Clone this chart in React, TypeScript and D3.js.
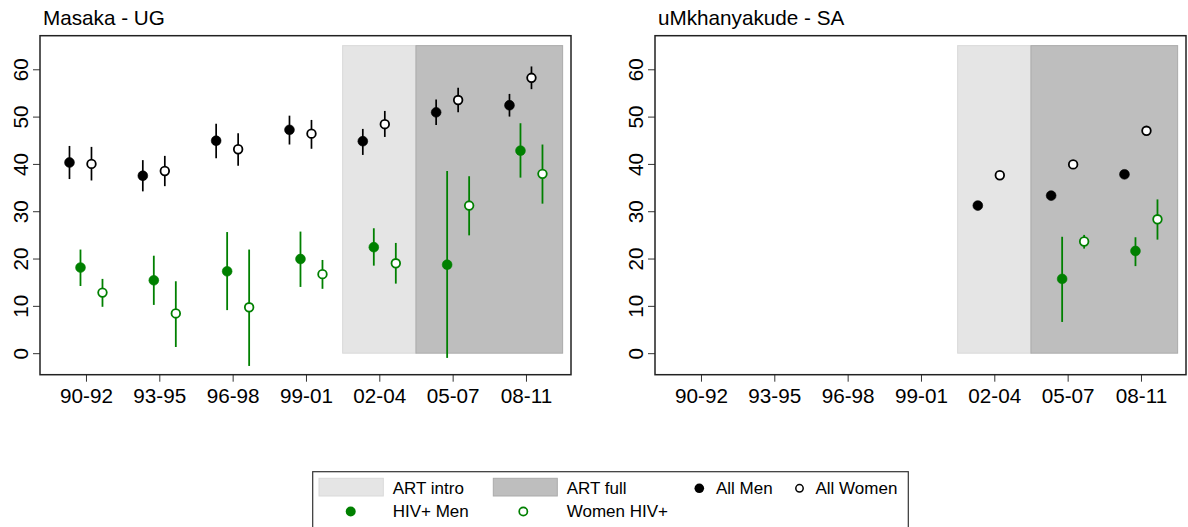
import * as d3 from "d3";
import React, { useEffect, useRef } from "react";

type Est = [number, number, number] | null; // [estimate, lower, upper]

const periods = ["90-92", "93-95", "96-98", "99-01", "02-04", "05-07", "08-11"];
const yTicks = [0, 10, 20, 30, 40, 50, 60];

// ART periods (in period index units) and the height of the shaded band
const artIntro = [4.5, 5.5];
const artFull = [5.5, 7.5];
const shadeTop = 65;

const masakaAllMen: Est[] = [[40.3, 36.8, 43.8], [37.5, 34.2, 40.8], [44.9, 41.2, 48.5], [47.2, 44.1, 50.2], [44.8, 41.9, 47.4], [50.9, 48.2, 53.6], [52.4, 50.0, 54.8]];
const masakaAllWomen: Est[] = [[40.0, 36.5, 43.6], [38.5, 35.3, 41.7], [43.1, 39.6, 46.5], [46.4, 43.2, 49.3], [48.4, 45.7, 51.2], [53.5, 50.9, 56.1], [58.2, 55.8, 60.6]];
const masakaHivMen: Est[] = [[18.1, 14.2, 21.9], [15.4, 10.2, 20.6], [17.3, 9.1, 25.6], [19.9, 14.0, 25.7], [22.4, 18.5, 26.4], [18.7, -1.0, 38.5], [42.8, 37.1, 48.6]];
const masakaHivWomen: Est[] = [[12.8, 9.8, 15.7], [8.4, 1.3, 15.2], [9.7, -2.7, 21.9], [16.7, 13.6, 19.7], [19.0, 14.7, 23.3], [31.2, 24.9, 37.4], [37.9, 31.6, 44.1]];

const umkhAllMen: Est[] = [null, null, null, null, [31.2, 30.8, 31.7], [33.3, 32.7, 33.9], [37.8, 37.3, 38.3]];
const umkhAllWomen: Est[] = [null, null, null, null, [37.6, 36.9, 38.3], [39.9, 39.1, 40.8], [47.0, 46.4, 47.6]];
const umkhHivMen: Est[] = [null, null, null, null, null, [15.7, 6.6, 24.6], [21.6, 18.4, 24.5]];
const umkhHivWomen: Est[] = [null, null, null, null, null, [23.6, 22.1, 25.0], [28.3, 24.0, 32.5]];

const FONT = "'Liberation Sans', Arial, Helvetica, sans-serif";
const GREEN = "#008000";

const panels = [
  { title: "Masaka - UG", left: 40, series: [masakaAllMen, masakaHivMen, masakaAllWomen, masakaHivWomen] },
  { title: "uMkhanyakude - SA", left: 655, series: [umkhAllMen, umkhHivMen, umkhAllWomen, umkhHivWomen] },
];

// order matches panel.series
const styles = [
  { offset: -0.225, color: "#000", filled: true },
  { offset: -0.075, color: GREEN, filled: true },
  { offset: 0.075, color: "#000", filled: false },
  { offset: 0.225, color: GREEN, filled: false },
];

export default function App() {
  const svgRef = useRef<SVGSVGElement>(null);

  useEffect(() => {
    const svg = d3.select(svgRef.current);
    svg.selectAll("*").remove();

    const top = 35.7, bottom = 374.7, pw = 531;
    const y = d3.scaleLinear().domain([-4.55, 67.1]).range([bottom, top]);

    panels.forEach((p) => {
      const x = d3.scaleLinear().domain([0.373, 7.614]).range([p.left, p.left + pw]);
      const g = svg.append("g");

      // ART shading
      g.append("rect")
        .attr("x", x(artIntro[0])).attr("y", y(shadeTop))
        .attr("width", x(artIntro[1]) - x(artIntro[0])).attr("height", y(0) - y(shadeTop))
        .attr("fill", "#e5e5e5").attr("stroke", "#d9d9d9");
      g.append("rect")
        .attr("x", x(artFull[0])).attr("y", y(shadeTop))
        .attr("width", x(artFull[1]) - x(artFull[0])).attr("height", y(0) - y(shadeTop))
        .attr("fill", "#bebebe").attr("stroke", "#ababab");

      // error bars then points
      p.series.forEach((s, si) => {
        const st = styles[si];
        const pts = s.map((d, i) => ({ d, i })).filter((o) => o.d !== null) as { d: [number, number, number]; i: number }[];
        g.append("g").selectAll("line").data(pts).enter().append("line")
          .attr("x1", (o) => x(o.i + 1 + st.offset)).attr("x2", (o) => x(o.i + 1 + st.offset))
          .attr("y1", (o) => y(o.d[1])).attr("y2", (o) => y(o.d[2]))
          .attr("stroke", st.color).attr("stroke-width", st.color === GREEN ? 1.8 : 1.7);
        g.append("g").selectAll("circle").data(pts).enter().append("circle")
          .attr("cx", (o) => x(o.i + 1 + st.offset)).attr("cy", (o) => y(o.d[0]))
          .attr("r", st.filled ? 4.9 : 4.3)
          .attr("fill", st.filled ? st.color : "#fff")
          .attr("stroke", st.color).attr("stroke-width", st.filled ? 0.6 : 1.8);
      });

      // axes
      const yAxis = d3.axisLeft(y).tickValues(yTicks).tickSize(7).tickSizeOuter(0);
      const ya = g.append("g").attr("transform", `translate(${p.left},0)`).call(yAxis);
      ya.select(".domain").remove();
      ya.selectAll(".tick line").attr("stroke", "#333");
      ya.selectAll(".tick text")
        .attr("transform", "rotate(-90)")
        .attr("text-anchor", "middle").attr("x", 0).attr("y", -12).attr("dy", 0)
        .attr("fill", "#000").style("font", `20.7px ${FONT}`);

      const xAxis = d3.axisBottom(x).tickValues(d3.range(1, periods.length + 1))
        .tickFormat((d) => periods[(d as number) - 1]).tickSize(7).tickSizeOuter(0);
      const xa = g.append("g").attr("transform", `translate(0,${bottom})`).call(xAxis);
      xa.select(".domain").remove();
      xa.selectAll(".tick line").attr("stroke", "#333");
      xa.selectAll(".tick text").attr("y", 13.6).attr("fill", "#000").style("font", `20.7px ${FONT}`);

      // frame
      g.append("rect").attr("x", p.left).attr("y", top).attr("width", pw).attr("height", bottom - top)
        .attr("fill", "none").attr("stroke", "#222").attr("stroke-width", 1.5);

      g.append("text").attr("x", p.left + 3).attr("y", 25).attr("fill", "#000")
        .style("font", `20.7px ${FONT}`).text(p.title);
    });

    // legend
    const lg = svg.append("g").style("font", `17px ${FONT}`).attr("fill", "#000");
    lg.append("rect").attr("x", 312.7).attr("y", 471.7).attr("width", 595.6).attr("height", 80)
      .attr("fill", "#fff").attr("stroke", "#333").attr("stroke-width", 1.2);
    lg.append("rect").attr("x", 319).attr("y", 478.3).attr("width", 64.3).attr("height", 17.7)
      .attr("fill", "#e5e5e5").attr("stroke", "#d9d9d9");
    lg.append("text").attr("x", 392.7).attr("y", 494.3).text("ART intro");
    lg.append("rect").attr("x", 493.3).attr("y", 478.3).attr("width", 64).attr("height", 17.7)
      .attr("fill", "#bebebe").attr("stroke", "#ababab");
    lg.append("text").attr("x", 566.7).attr("y", 494.3).text("ART full");
    lg.append("circle").attr("cx", 699.3).attr("cy", 488.3).attr("r", 4.8).attr("fill", "#000");
    lg.append("text").attr("x", 716).attr("y", 494.3).text("All Men");
    lg.append("circle").attr("cx", 799.5).attr("cy", 488.3).attr("r", 3.7)
      .attr("fill", "#fff").attr("stroke", "#000").attr("stroke-width", 1.5);
    lg.append("text").attr("x", 815.5).attr("y", 494.3).text("All Women");
    lg.append("circle").attr("cx", 350.7).attr("cy", 511.5).attr("r", 5).attr("fill", GREEN);
    lg.append("text").attr("x", 392.7).attr("y", 517).text("HIV+ Men");
    lg.append("circle").attr("cx", 523.3).attr("cy", 511.5).attr("r", 4.1)
      .attr("fill", "#fff").attr("stroke", GREEN).attr("stroke-width", 1.7);
    lg.append("text").attr("x", 566.7).attr("y", 517).text("Women HIV+");
  }, []);

  return (
    <svg
      ref={svgRef}
      width={1188}
      height={527}
      style={{ position: "absolute", left: 0, top: 0, background: "#fff", display: "block" }}
    />
  );
}
